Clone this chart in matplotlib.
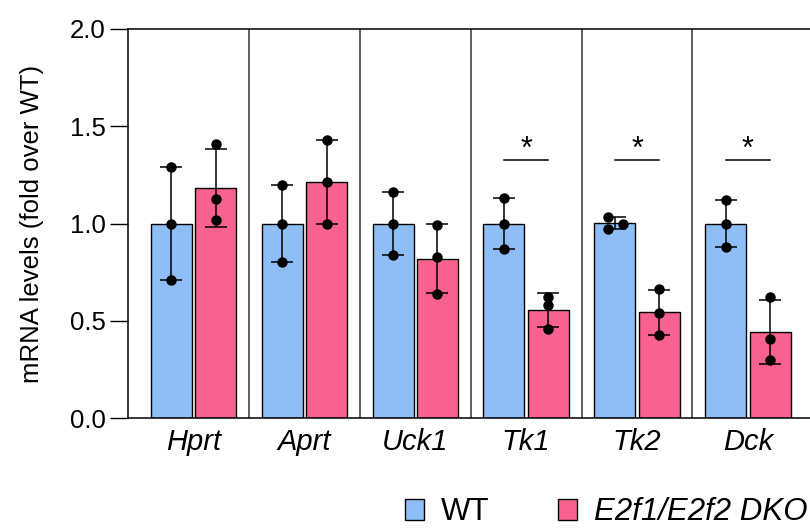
import numpy as np
import matplotlib
matplotlib.use("Agg")
import matplotlib.pyplot as plt
from matplotlib.patches import Patch

plt.rcParams['font.family'] = ['Liberation Sans', 'DejaVu Sans']

genes = ["Hprt", "Aprt", "Uck1", "Tk1", "Tk2", "Dck"]
series = ["WT", "E2f1/E2f2 DKO"]

# individual replicate values (fold over WT)
wt_points = [
    [1.29, 1.00, 0.71],
    [1.20, 1.00, 0.80],
    [1.16, 1.00, 0.84],
    [1.13, 1.00, 0.87],
    [1.033, 0.97, 1.00],
    [1.12, 1.00, 0.88],
]
dko_points = [
    [1.407, 1.126, 1.018],
    [1.429, 1.215, 0.997],
    [0.99, 0.83, 0.64],
    [0.624, 0.581, 0.458],
    [0.662, 0.540, 0.428],
    [0.620, 0.406, 0.298],
]
significant = ["Tk1", "Tk2", "Dck"]
yticks = [0.0, 0.5, 1.0, 1.5, 2.0]

colors = ["#8FBEF7", "#F9628F"]

fig = plt.figure(figsize=(8.1, 5.28), dpi=100)
ax = fig.add_axes([128 / 810, 110 / 528, 688.7 / 810, 389 / 528])

x = np.arange(len(genes))
offset = 0.2
width = 0.37

# horizontal spread for overlapping dots (Tk2 WT)
point_dx = {("Tk2", 0): [-0.065, -0.065, 0.07]}

for si, pts in enumerate([wt_points, dko_points]):
    arr = np.array(pts)
    means = arr.mean(axis=1)
    sds = arr.std(axis=1, ddof=1)
    xs = x + (offset if si == 1 else -offset)
    ax.bar(xs, means, width=width, color=colors[si], edgecolor="black",
           linewidth=1.0, zorder=2)
    ax.errorbar(xs, means, yerr=sds, fmt="none", ecolor="black",
                elinewidth=1.1, capsize=8, capthick=1.1, zorder=3)
    for gi, g in enumerate(genes):
        dx = point_dx.get((g, si), [0, 0, 0])
        ax.plot(xs[gi] + np.array(dx), arr[gi], "o", color="black",
                markersize=6.5, zorder=4, linestyle="none")

# group separators
for i in range(len(genes) - 1):
    ax.axvline(i + 0.5, color="#444444", linewidth=1.2, zorder=1)

# significance marks
for g in significant:
    gi = genes.index(g)
    ax.plot([gi - offset, gi + offset], [1.326, 1.326], color="black",
            linewidth=1.1, zorder=3)
    ax.text(gi, 1.30, "*", ha="center", va="bottom", fontsize=22)

ax.set_xlim(-0.59, 5.62)
ax.set_ylim(0, 2.0)
ax.set_yticks(yticks)
ax.set_yticklabels([f"{t:.1f}" for t in yticks], fontsize=18.5)
ax.set_xticks(x)
ax.set_xticklabels(genes, fontsize=21, style="italic")
ax.tick_params(axis="x", length=0, pad=7)
ax.tick_params(axis="y", length=13, width=1.0, pad=3)
ax.set_ylabel("mRNA levels (fold over WT)", fontsize=18.5, labelpad=19)

for s in ["left", "top", "bottom"]:
    ax.spines[s].set_linewidth(1.1)
    ax.spines[s].set_color("black")
ax.spines["right"].set_visible(False)

handles = [Patch(facecolor=colors[0], edgecolor="black", linewidth=1.0),
           Patch(facecolor=colors[1], edgecolor="black", linewidth=1.0)]
leg = fig.legend(handles, series, loc="lower left",
                 bbox_to_anchor=(405 / 810, 0.5 / 528), ncol=2, frameon=False,
                 fontsize=22.5, handlelength=0.6, handleheight=0.65,
                 handletextpad=0.55, columnspacing=2.2, borderpad=0,
                 borderaxespad=0)
leg.get_texts()[1].set_fontstyle("italic")

fig.savefig("out.png", dpi=100)
